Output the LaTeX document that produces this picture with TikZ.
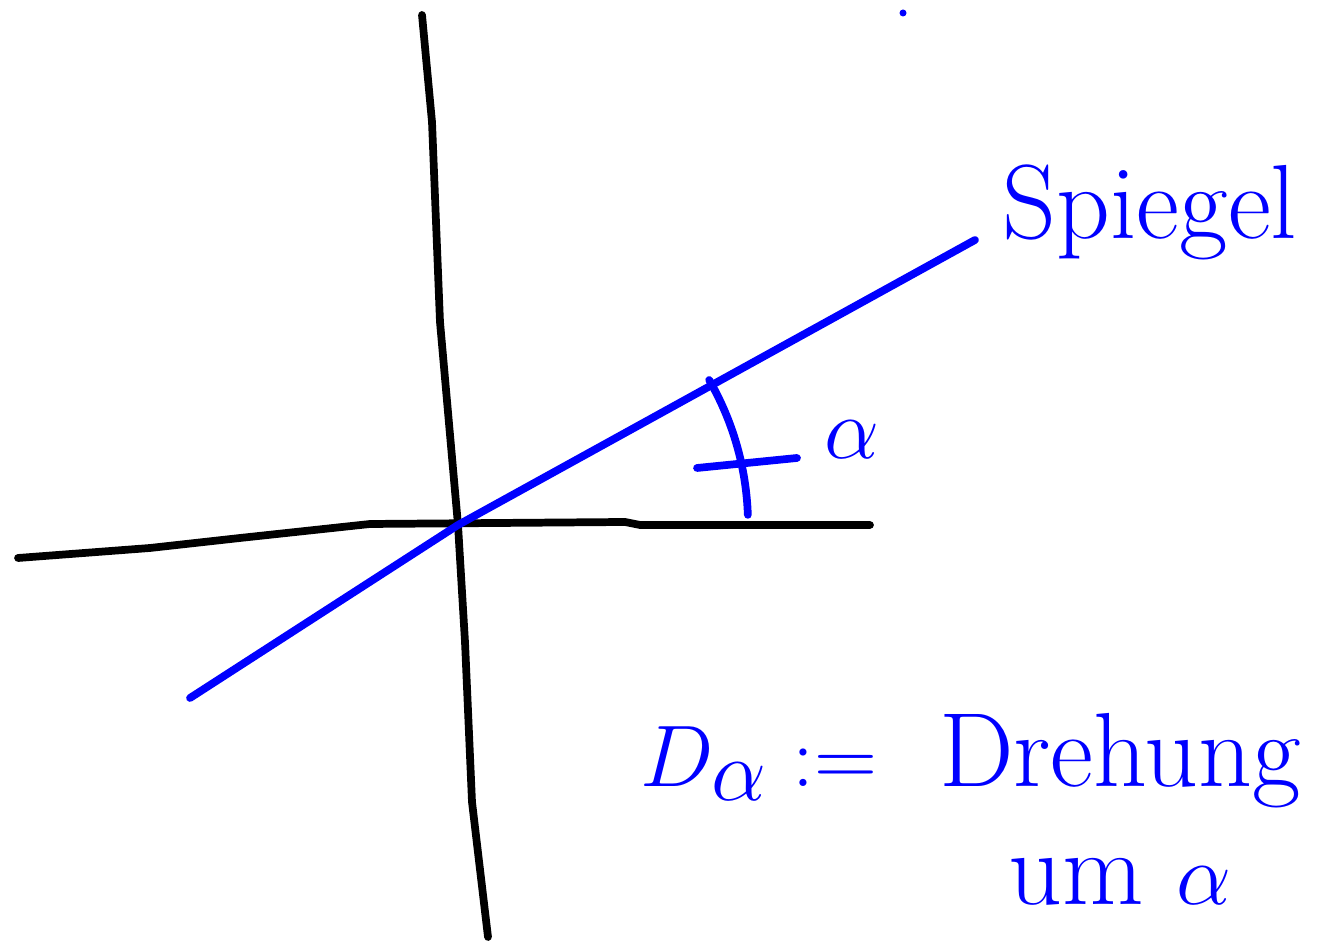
\documentclass[tikz,border=0pt]{standalone}
\usetikzlibrary{positioning}
\definecolor{penblue}{RGB}{0,0,255}
\begin{document}
\begin{tikzpicture}[
    line cap=round,
    line join=round,
    axis/.style={line width=2.2pt, black},
    pen/.style={line width=2.2pt, penblue},
    handtext/.style={text=penblue, inner sep=0pt},
]
\useasboundingbox (0,0) rectangle (13.43,9.42);

\coordinate (origin) at (4.58,4.17);
\coordinate (xleft) at (0.18,3.84);
\coordinate (xright) at (8.70,4.17);
\coordinate (ytop) at (4.22,9.27);
\coordinate (ybottom) at (4.88,0.05);
\coordinate (mirrorlow) at (1.90,2.44);
\coordinate (mirrorhigh) at (9.75,7.02);
\coordinate (tickleft) at (6.97,4.74);
\coordinate (tickright) at (7.97,4.84);

\draw[axis] (xleft) -- (1.50,3.94) -- (2.40,4.04) -- (3.70,4.18) -- (6.25,4.20) -- (6.40,4.17) -- (xright);
\draw[axis] (ytop) -- (4.32,8.20) -- (4.40,6.20) -- (origin) -- (4.65,3.00) -- (4.72,1.40) -- (ybottom);
\draw[pen] (mirrorlow) -- (origin) -- (mirrorhigh);

% angle between axis and mirror
\draw[pen] ([shift={(2:2.9)}]origin) arc[start angle=2, end angle=30, radius=2.9];
\draw[pen] (tickleft) -- (tickright);

\node[handtext, font=\fontsize{30}{32}\selectfont] (spiegel) at (11.50,7.30) {Spiegel};
\node[handtext, font=\fontsize{34}{36}\selectfont] (alpha) at (8.52,5.02) {$\alpha$};

\node[handtext, anchor=base west, font=\fontsize{40}{42}\selectfont] (dlabel) at (6.40,1.55) {$D_\alpha :=$};
\node[handtext, base right=0.6cm of dlabel, font=\fontsize{30}{32}\selectfont] (drehung) {Drehung};
\node[handtext, font=\fontsize{30}{32}\selectfont] (umalpha) at (11.20,0.60) {um $\alpha$};

\fill[penblue] (9.03,9.29) circle (0.035);

\end{tikzpicture}
\end{document}
